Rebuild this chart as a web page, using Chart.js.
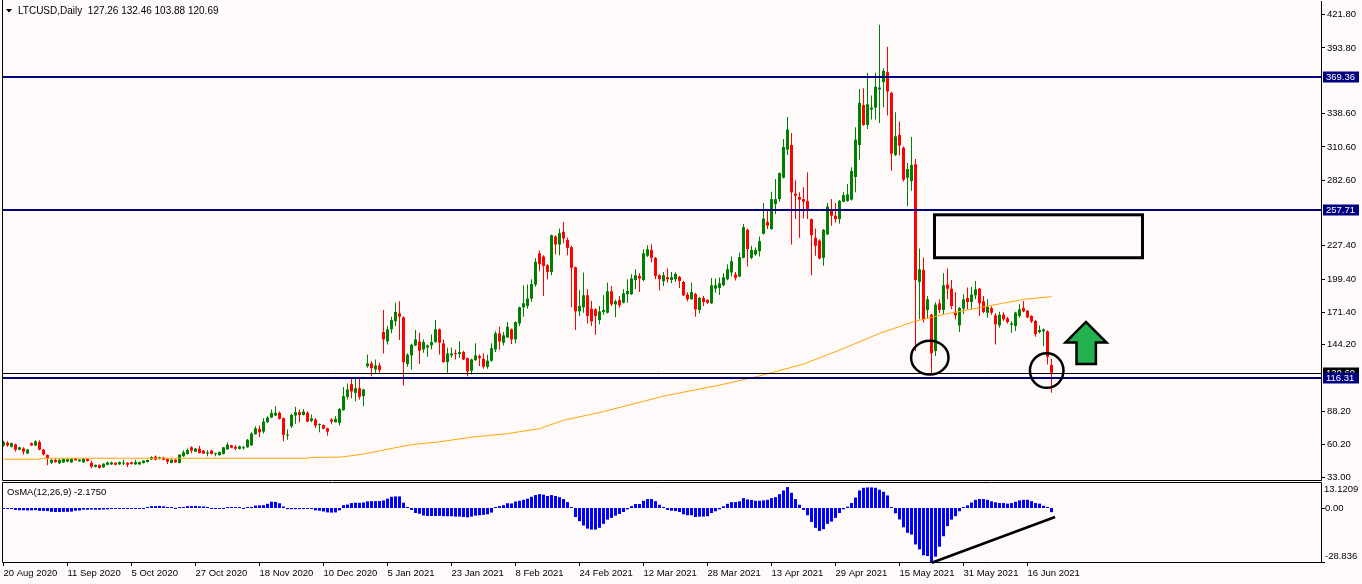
<!DOCTYPE html>
<html>
<head>
<meta charset="utf-8">
<title>LTCUSD Daily</title>
<script src="https://cdn.jsdelivr.net/npm/chart.js@4.4.1/dist/chart.umd.min.js"></script>
<style>
  html, body { margin: 0; padding: 0; background: #fffafa; }
  body { width: 1362px; height: 584px; position: relative; overflow: hidden; }
  canvas { position: absolute; left: 0; }
  #priceChart { top: 0; }
  #osmaChart { top: 482px; }
</style>
</head>
<body>
<canvas id="priceChart" width="1362" height="481"></canvas>
<canvas id="osmaChart" width="1362" height="102"></canvas>
<script>
const FONT = 'Liberation Sans';

// daily candles, 20 Aug 2020 .. 24 Jun 2021
const opens = [
  59.5, 61.8, 58.5, 60.5, 56.0, 57.0, 52.8, 61.5, 59.5, 62.5,
  56.0, 51.5, 45.0, 47.5, 44.6, 45.3, 46.0, 45.3, 48.5, 46.2,
  45.3, 48.2, 45.0, 41.5, 43.2, 41.2, 43.3, 43.6, 45.0, 43.6,
  44.3, 45.0, 45.3, 43.6, 43.6, 44.7, 45.6, 47.8, 50.1, 48.2,
  49.3, 48.2, 44.8, 47.6, 44.8, 50.4, 52.4, 58.0, 54.3, 56.9,
  55.2, 52.7, 55.2, 52.1, 51.3, 52.4, 56.3, 59.7, 58.3, 56.6,
  57.2, 58.0, 59.7, 69.0, 73.4, 71.2, 79.1, 83.0, 84.7, 87.0,
  82.4, 67.8, 75.7, 84.7, 87.5, 85.2, 87.0, 80.2, 81.3, 76.8,
  76.8, 74.0, 81.3, 79.1, 78.5, 89.2, 100.4, 111.1, 103.8, 107.7,
  101.0, 126.3, 128.5, 123.5, 126.8, 154.9, 147.0, 157.2, 163.9, 170.6,
  167.3, 128.0, 135.3, 143.7, 147.0, 140.3, 142.0, 143.7, 146.5, 157.2,
  145.4, 129.6, 135.3, 136.9, 136.4, 138.1, 133.0, 122.3, 131.3, 134.7,
  132.4, 125.7, 130.8, 140.3, 153.8, 145.9, 150.4, 157.2, 148.7, 162.2,
  175.7, 176.8, 183.0, 194.8, 221.0, 218.4, 211.1, 205.5, 235.3, 228.5,
  239.2, 232.5, 226.3, 209.4, 172.3, 175.7, 185.8, 174.6, 174.0, 165.0,
  171.8, 171.2, 189.2, 178.2, 181.9, 179.6, 186.7, 186.7, 198.7, 202.1,
  198.7, 219.0, 224.0, 217.3, 202.7, 197.6, 201.0, 198.7, 199.3, 201.3,
  197.0, 186.4, 182.5, 186.9, 173.5, 183.6, 181.9, 179.1, 191.4, 192.0,
  194.3, 199.3, 205.0, 203.3, 201.6, 217.3, 240.9, 217.3, 220.1, 222.9,
  237.5, 247.6, 241.5, 262.5, 266.7, 284.7, 308.3, 312.2, 271.3, 268.5,
  266.7, 265.0, 249.9, 234.2, 231.9, 217.3, 237.0, 258.3, 252.7, 249.9,
  264.5, 265.1, 266.2, 285.3, 312.2, 345.9, 329.1, 342.0, 343.7, 358.9,
  365.1, 373.5, 356.1, 303.8, 320.7, 310.0, 284.7, 281.9, 296.0, 197.1,
  207.2, 173.5, 169.5, 138.9, 179.1, 173.5, 194.8, 191.4, 171.2, 160.5,
  174.6, 183.6, 180.2, 185.8, 191.4, 180.8, 171.2, 175.1, 169.0, 160.5,
  169.5, 166.4, 161.1, 160.0, 168.4, 175.1, 172.9, 168.4, 164.2, 154.9,
  155.5, 155.5, 127.26
];
const highs = [
  63.5, 63.3, 62.0, 61.0, 58.5, 58.0, 56.5, 62.0, 64.0, 64.0,
  56.5, 52.0, 48.0, 48.3, 48.0, 48.8, 48.5, 49.0, 49.0, 48.0,
  49.0, 48.8, 47.0, 43.6, 43.6, 44.5, 46.0, 46.0, 45.5, 46.0,
  47.5, 45.5, 46.0, 47.6, 46.0, 47.2, 47.8, 50.4, 51.0, 50.0,
  50.0, 48.6, 48.0, 48.0, 52.2, 55.5, 57.0, 58.8, 57.5, 59.4,
  55.8, 55.5, 56.0, 53.5, 54.5, 58.3, 62.2, 60.2, 59.7, 59.4,
  59.4, 65.0, 70.6, 75.7, 76.3, 82.4, 84.1, 89.7, 92.5, 88.1,
  83.0, 72.9, 86.4, 92.0, 89.7, 90.3, 88.3, 85.5, 82.7, 78.0,
  77.2, 74.5, 82.4, 84.1, 90.8, 108.8, 111.6, 116.4, 115.9, 116.4,
  107.2, 136.1, 130.5, 131.9, 129.1, 173.5, 160.0, 167.8, 179.6, 180.8,
  168.0, 137.0, 145.0, 156.6, 154.3, 148.7, 144.5, 152.9, 165.0, 158.0,
  148.7, 141.7, 141.7, 140.3, 147.2, 139.2, 133.5, 132.4, 145.4, 136.1,
  136.9, 135.8, 145.4, 155.5, 159.4, 154.9, 163.3, 157.8, 164.0, 176.5,
  194.2, 194.8, 199.3, 217.0, 223.5, 219.5, 212.0, 237.0, 236.0, 242.0,
  247.6, 234.4, 227.4, 210.0, 190.3, 204.9, 190.9, 181.0, 175.0, 176.8,
  185.8, 196.5, 193.7, 182.0, 185.3, 190.9, 199.3, 203.5, 207.7, 204.4,
  224.6, 228.0, 228.8, 218.0, 203.5, 205.5, 208.3, 205.5, 204.9, 202.1,
  198.0, 188.1, 196.5, 188.0, 184.5, 185.3, 182.5, 200.4, 199.9, 200.7,
  204.4, 212.0, 218.4, 205.5, 221.8, 245.7, 242.0, 227.4, 226.0, 235.3,
  263.4, 258.3, 272.9, 283.6, 289.0, 317.3, 335.8, 322.4, 282.5, 272.4,
  276.6, 289.2, 250.5, 242.0, 233.0, 241.5, 263.4, 266.7, 263.4, 266.0,
  272.4, 279.4, 293.4, 327.1, 359.4, 360.0, 372.9, 353.8, 372.9, 413.4,
  376.8, 394.8, 357.0, 339.8, 331.9, 311.0, 297.1, 319.0, 300.4, 225.1,
  217.6, 185.3, 170.0, 180.0, 182.5, 204.4, 208.3, 198.7, 188.6, 176.0,
  186.7, 192.3, 193.1, 197.9, 192.0, 185.3, 182.5, 176.5, 171.0, 172.0,
  171.5, 167.5, 164.2, 172.0, 178.2, 181.0, 173.5, 169.0, 165.0, 160.5,
  158.0, 156.5, 132.46
];
const lows = [
  58.5, 58.5, 57.8, 54.5, 55.5, 52.0, 52.3, 59.0, 59.0, 55.5,
  51.0, 43.0, 44.0, 45.0, 44.0, 45.0, 45.5, 44.8, 46.8, 45.8,
  45.0, 46.0, 40.3, 41.0, 40.2, 40.8, 43.0, 43.2, 43.0, 43.3,
  43.0, 41.5, 43.5, 43.3, 43.3, 44.3, 45.3, 47.4, 47.2, 47.8,
  47.2, 44.0, 44.5, 45.0, 44.5, 50.0, 52.0, 52.9, 54.0, 52.8,
  52.3, 50.4, 52.0, 50.4, 51.0, 52.0, 56.0, 57.3, 55.5, 56.2,
  56.0, 57.7, 59.4, 68.7, 66.7, 69.5, 78.5, 82.7, 84.1, 81.3,
  63.1, 64.4, 74.3, 77.9, 79.1, 84.7, 79.0, 79.1, 74.3, 70.6,
  73.2, 67.8, 77.4, 78.8, 76.3, 88.7, 98.2, 99.3, 96.8, 98.2,
  92.5, 124.8, 117.8, 120.6, 120.6, 136.9, 144.5, 153.8, 160.0, 148.2,
  110.0, 125.7, 123.5, 143.0, 128.0, 137.5, 134.1, 140.3, 146.0, 136.1,
  129.0, 120.6, 133.3, 131.9, 133.3, 131.5, 117.8, 119.2, 130.8, 126.3,
  124.0, 124.0, 130.0, 138.1, 140.3, 143.7, 150.0, 144.8, 145.4, 160.0,
  167.8, 174.6, 180.2, 193.0, 206.0, 185.3, 199.3, 202.7, 220.4, 219.5,
  229.6, 219.5, 175.7, 156.6, 168.4, 171.2, 162.2, 160.0, 152.7, 161.4,
  169.5, 170.5, 176.8, 167.3, 175.4, 179.0, 179.6, 186.0, 190.9, 188.6,
  197.6, 218.0, 213.3, 199.3, 189.8, 193.7, 196.5, 195.9, 197.1, 192.0,
  185.3, 180.8, 182.0, 167.8, 170.7, 176.8, 178.5, 178.5, 188.0, 186.0,
  193.5, 198.5, 201.6, 198.2, 201.0, 216.7, 210.0, 216.2, 219.0, 218.4,
  237.0, 241.5, 241.0, 254.1, 264.5, 284.0, 303.8, 228.5, 249.9, 234.2,
  250.4, 249.9, 202.7, 219.0, 216.2, 210.6, 236.5, 244.3, 247.1, 245.9,
  264.0, 264.5, 265.6, 272.4, 299.9, 328.5, 325.7, 333.6, 333.6, 330.8,
  344.0, 337.0, 290.6, 303.0, 303.3, 281.5, 260.6, 273.8, 138.9, 165.6,
  163.0, 166.1, 119.2, 134.7, 171.0, 169.8, 182.5, 174.0, 165.6, 154.9,
  169.8, 174.0, 174.0, 182.5, 168.4, 170.7, 167.0, 169.5, 144.5, 158.5,
  164.5, 162.0, 154.4, 155.8, 167.0, 171.5, 166.5, 162.5, 151.0, 154.0,
  143.1, 127.7, 103.88
];
const closes = [
  62.5, 59.4, 61.5, 56.0, 58.0, 54.3, 56.0, 59.5, 63.0, 56.0,
  52.0, 49.0, 47.5, 45.6, 47.5, 48.2, 48.0, 48.2, 47.0, 47.6,
  48.5, 46.5, 41.7, 43.2, 40.6, 44.2, 45.3, 45.3, 43.3, 45.6,
  45.0, 43.3, 43.9, 45.6, 45.6, 46.8, 47.3, 49.8, 47.6, 49.5,
  47.6, 45.9, 47.6, 45.3, 51.8, 53.8, 55.7, 55.2, 56.9, 53.2,
  52.7, 53.8, 52.4, 52.9, 54.1, 58.0, 60.2, 57.7, 56.9, 58.8,
  58.0, 64.4, 69.5, 74.0, 70.6, 79.6, 83.0, 87.0, 87.0, 81.9,
  68.4, 68.7, 85.2, 87.5, 85.2, 88.1, 79.6, 82.4, 76.3, 77.4,
  73.7, 71.2, 79.6, 81.9, 90.3, 101.0, 106.6, 104.9, 107.7, 100.4,
  106.6, 128.5, 124.6, 126.8, 122.9, 148.7, 157.2, 165.0, 171.8, 167.8,
  129.6, 135.8, 144.2, 148.7, 139.2, 146.5, 143.7, 146.5, 157.2, 146.0,
  129.6, 136.9, 136.9, 136.4, 138.1, 131.9, 121.8, 131.9, 135.3, 133.0,
  125.7, 130.8, 141.4, 153.8, 147.0, 152.1, 159.4, 148.7, 163.3, 175.7,
  179.1, 183.0, 195.4, 214.0, 212.0, 210.5, 205.5, 236.4, 228.5, 238.1,
  233.6, 225.7, 208.9, 172.3, 176.8, 185.8, 168.4, 163.9, 168.4, 172.3,
  173.5, 189.2, 178.2, 180.8, 177.4, 187.5, 189.5, 199.9, 202.7, 199.9,
  221.2, 224.6, 217.3, 202.1, 199.3, 202.7, 199.3, 201.0, 203.8, 197.9,
  185.8, 182.5, 188.6, 174.0, 183.6, 180.2, 179.6, 194.3, 194.3, 195.9,
  201.0, 207.8, 214.5, 200.4, 217.9, 243.1, 224.6, 224.0, 224.0, 231.3,
  250.4, 244.3, 266.7, 266.7, 288.6, 310.6, 325.2, 272.4, 269.5, 266.2,
  264.5, 256.9, 236.4, 227.4, 216.7, 240.9, 260.5, 252.7, 249.9, 265.3,
  270.1, 270.7, 290.3, 316.7, 347.6, 329.1, 346.5, 343.7, 361.1, 360.5,
  374.6, 357.2, 304.9, 319.5, 311.7, 283.0, 292.0, 295.4, 198.7, 207.7,
  165.6, 182.4, 137.0, 178.0, 173.5, 194.2, 191.4, 176.8, 169.0, 175.1,
  182.4, 180.2, 186.4, 190.9, 179.1, 171.8, 176.3, 171.2, 161.4, 169.5,
  165.6, 163.3, 162.2, 171.2, 174.0, 172.3, 167.3, 163.9, 153.2, 156.6,
  157.2, 134.1, 120.69
];

// OsMA(12,26,9) histogram, one value per candle
const osma = [
  -0.2, -0.2, -0.3, -1.0, -1.2, -1.2, -1.3, -1.2, -1.1, -1.5,
  -1.5, -1.6, -2.0, -2.1, -2.1, -2.0, -2.0, -1.9, -1.4, -1.3,
  -0.9, -0.9, -0.8, -0.9, -0.9, -0.8, -0.7, -0.4, -0.3, -0.3,
  -0.3, -0.2, -0.2, -0.2, -0.2, -0.1, 0.3, 1.0, 1.0, 1.1,
  0.9, 0.2, 0.1, -0.2, 0.2, 0.3, 1.0, 1.0, 1.1, 0.9,
  0.8, 0.2, -0.2, -0.4, -0.4, -0.3, 0.2, 0.2, 0.2, 0.1,
  -0.3, 0.5, 0.6, 1.3, 1.4, 1.5, 2.2, 3.3, 3.2, 2.5,
  0.8, -0.6, -0.6, -0.6, -0.6, -0.4, -0.4, -0.4, -1.2, -1.4,
  -1.8, -2.3, -2.4, -2.3, -1.2, 1.5, 1.8, 2.6, 2.8, 2.7,
  2.9, 3.5, 3.6, 3.6, 3.7, 4.0, 4.9, 5.9, 6.1, 6.1,
  2.8, 0.2, -1.0, -2.6, -3.0, -3.9, -4.2, -4.2, -4.2, -4.1,
  -4.3, -4.3, -4.3, -4.5, -4.5, -4.7, -4.9, -4.5, -4.0, -3.8,
  -3.6, -3.3, -2.4, 0.5, 1.0, 1.5, 2.5, 2.4, 3.4, 3.8,
  4.3, 4.9, 5.9, 6.8, 7.3, 7.0, 6.3, 6.8, 6.3, 5.7,
  4.7, 3.1, 0.2, -4.7, -6.9, -9.2, -10.8, -11.3, -11.3, -10.4,
  -8.3, -6.1, -5.2, -4.0, -3.1, -2.1, -0.7, 1.0, 2.1, 2.1,
  3.8, 4.7, 4.7, 3.6, 1.7, 0.3, -1.0, -1.4, -1.6, -2.1,
  -3.3, -3.8, -3.8, -4.7, -4.5, -4.5, -4.3, -2.6, -1.7, -0.7,
  0.9, 2.2, 3.1, 3.1, 3.5, 5.2, 4.5, 4.2, 3.8, 3.8,
  4.0, 4.3, 5.2, 5.7, 7.3, 9.2, 11.0, 8.0, 4.7, 1.7,
  -1.0, -3.8, -7.3, -10.4, -12.0, -11.1, -8.3, -7.1, -5.2, -2.6,
  -0.7, 0.7, 2.6, 5.5, 9.2, 10.6, 10.8, 10.8, 10.6, 9.6,
  8.5, 6.6, 0.3, -2.8, -6.0, -10.1, -13.0, -13.9, -19.1, -21.7,
  -24.8, -25.2, -28.8, -25.5, -20.3, -14.8, -9.5, -6.1, -4.3, -1.7,
  0.3, 1.4, 2.9, 4.3, 4.7, 4.7, 4.3, 3.5, 3.0, 2.6,
  2.6, 2.3, 2.6, 3.3, 4.0, 4.3, 4.3, 3.6, 2.6, 2.3,
  1.2, 0.3, -2.175
];

// moving average (orange), read at a few bars
const maIdx = [0, 9, 10, 76, 77, 84, 87, 91, 94, 98, 102, 109, 117, 126, 134, 140, 150, 165, 180, 189, 200, 210, 219, 228, 236, 244, 255, 262];
const maVal = [48.0, 48.0, 48.8, 48.8, 49.5, 49.7, 50.9, 52.9, 55.0, 57.7, 60.2, 62.6, 66.5, 69.5, 73.7, 80.7, 88.0, 101.0, 111.0, 118.0, 128.0, 141.0, 153.8, 164.1, 170.4, 175.4, 182.4, 184.7];

const priceTicks = [421.80, 393.80, 338.60, 310.60, 282.60, 227.40, 199.40, 171.40, 144.20, 88.20, 60.20, 33.00];
const dateLabels = ['20 Aug 2020', '11 Sep 2020', '5 Oct 2020', '27 Oct 2020', '18 Nov 2020', '10 Dec 2020',
  '5 Jan 2021', '23 Jan 2021', '8 Feb 2021', '24 Feb 2021', '12 Mar 2021', '28 Mar 2021', '13 Apr 2021',
  '29 Apr 2021', '15 May 2021', '31 May 2021', '16 Jun 2021'];
const dateIdx = [0, 16, 32, 48, 64, 80, 96, 112, 128, 144, 160, 176, 192, 208, 224, 240, 256];

const levels = [369.36, 257.71, 116.31];
const bidPrice = 120.69;

// chart objects, in bar index / price units
const zone = { i0: 232.75, i1: 284.75, p0: 253.5, p1: 217.4 };
const rings = [
  { i0: 226.9, i1: 236.25, p0: 147.6, p1: 119.2 },
  { i0: 256.6, i1: 265.0, p0: 137.1, p1: 108.0 }
];
const arrowI = [270.6, 275.75, 273.1, 273.1, 268.25, 268.25, 265.5];
const arrowP = [163.4, 146.1, 146.1, 128.1, 128.1, 146.1, 146.1];
const trendI = [232.05, 262.9];
const trendV = [-28.7, -4.7];

const X_MIN = -0.375, X_MAX = 329.375;
const idx = opens.map((_, i) => i);
const candleColors = idx.map(i => closes[i] >= opens[i] ? '#008000' : '#ff0000');

function noPad(s) {
  s.paddingTop = 0; s.paddingBottom = 0; s.paddingLeft = 0; s.paddingRight = 0;
}

function boxLabel(ctx, text, yc, bg) {
  ctx.fillStyle = bg;
  ctx.fillRect(1323, Math.round(yc) - 5.5, 36, 11);
  ctx.fillStyle = '#ffffff';
  ctx.textAlign = 'left';
  ctx.textBaseline = 'middle';
  ctx.fillText(text, 1326, Math.round(yc) + 0.5);
}

const priceDecor = {
  id: 'priceDecor',
  afterDraw(chart) {
    const { ctx, chartArea: a, scales: { x, y } } = chart;
    ctx.save();
    ctx.beginPath();
    ctx.rect(a.left, a.top, a.right - a.left, a.bottom - a.top);
    ctx.clip();

    const by = Math.round(y.getPixelForValue(bidPrice)) + 0.5;
    ctx.strokeStyle = '#000';
    ctx.lineWidth = 1;
    ctx.beginPath(); ctx.moveTo(a.left, by); ctx.lineTo(a.right, by); ctx.stroke();

    ctx.fillStyle = '#000080';
    levels.forEach(v => {
      const ly = Math.round(y.getPixelForValue(v));
      ctx.fillRect(a.left, ly - 1, a.right - a.left, 2);
    });

    ctx.lineWidth = 3;
    const zx0 = x.getPixelForValue(zone.i0), zx1 = x.getPixelForValue(zone.i1);
    const zy0 = y.getPixelForValue(zone.p0), zy1 = y.getPixelForValue(zone.p1);
    ctx.strokeRect(zx0, zy0, zx1 - zx0, zy1 - zy0);

    ctx.lineWidth = 2.5;
    rings.forEach(r => {
      const x0 = x.getPixelForValue(r.i0), x1 = x.getPixelForValue(r.i1);
      const y0 = y.getPixelForValue(r.p0), y1 = y.getPixelForValue(r.p1);
      ctx.beginPath();
      ctx.ellipse((x0 + x1) / 2, (y0 + y1) / 2, (x1 - x0) / 2, (y1 - y0) / 2, 0, 0, Math.PI * 2);
      ctx.stroke();
    });

    ctx.beginPath();
    arrowI.forEach((v, k) => {
      const px = x.getPixelForValue(v), py = y.getPixelForValue(arrowP[k]);
      if (k) ctx.lineTo(px, py); else ctx.moveTo(px, py);
    });
    ctx.closePath();
    ctx.fillStyle = '#22b14c';
    ctx.fill();
    ctx.lineWidth = 2.5;
    ctx.stroke();
    ctx.restore();

    // frame
    ctx.save();
    ctx.strokeStyle = '#000';
    ctx.lineWidth = 1;
    ctx.beginPath();
    ctx.moveTo(a.left + 0.5, 0); ctx.lineTo(a.left + 0.5, a.bottom + 0.5);
    ctx.lineTo(a.right + 1, a.bottom + 0.5);
    ctx.stroke();

    // price labels on the axis
    ctx.font = '9.5px ' + FONT;
    boxLabel(ctx, bidPrice.toFixed(2), y.getPixelForValue(bidPrice), '#000000');
    levels.forEach(v => boxLabel(ctx, v.toFixed(2), y.getPixelForValue(v), '#000080'));

    // title
    ctx.fillStyle = '#000';
    ctx.beginPath(); ctx.moveTo(6, 9); ctx.lineTo(12, 9); ctx.lineTo(9, 12.5); ctx.closePath(); ctx.fill();
    ctx.font = '10px ' + FONT;
    ctx.textAlign = 'left';
    ctx.textBaseline = 'middle';
    ctx.fillText('LTCUSD,Daily  127.26 132.46 103.88 120.69', 18, 11);
    ctx.restore();
  }
};

const osmaDecor = {
  id: 'osmaDecor',
  afterDraw(chart) {
    const { ctx, chartArea: a, scales: { x, y } } = chart;
    ctx.save();
    ctx.strokeStyle = '#000';
    ctx.lineWidth = 2.5;
    ctx.beginPath();
    ctx.moveTo(x.getPixelForValue(trendI[0]), y.getPixelForValue(trendV[0]));
    ctx.lineTo(x.getPixelForValue(trendI[1]), y.getPixelForValue(trendV[1]));
    ctx.stroke();

    ctx.lineWidth = 1;
    ctx.beginPath();
    ctx.rect(a.left + 0.5, a.top - 0.5, a.right - a.left, a.bottom - a.top);
    const zy = Math.round(y.getPixelForValue(0)) + 0.5;
    ctx.moveTo(a.right, zy); ctx.lineTo(a.right + 4, zy);
    ctx.moveTo(a.right, a.bottom - 0.5); ctx.lineTo(a.right + 4, a.bottom - 0.5);
    ctx.stroke();

    ctx.fillStyle = '#000';
    ctx.font = '9.5px ' + FONT;
    ctx.textAlign = 'left';
    ctx.textBaseline = 'middle';
    ctx.fillText('OsMA(12,26,9) -2.1750', 7, 10);
    ctx.fillText('13.1209', 1324, 7.5);
    ctx.fillText('0.00', 1325, zy);
    ctx.fillText('-28.836', 1325, 74);
    ctx.restore();
  }
};

new Chart(document.getElementById('priceChart').getContext('2d'), {
  type: 'bar',
  data: {
    datasets: [
      {
        type: 'line',
        data: maIdx.map((v, k) => ({ x: v, y: maVal[k] })),
        borderColor: '#ffa500',
        borderWidth: 1,
        pointRadius: 0,
        tension: 0,
        order: 0
      },
      {
        data: idx.map(i => ({ x: i, y: [lows[i], highs[i]] })),
        backgroundColor: candleColors,
        barThickness: 1,
        grouped: false,
        inflateAmount: 0,
        order: 2
      },
      {
        data: idx.map(i => ({ x: i, y: [opens[i], closes[i]] })),
        backgroundColor: candleColors,
        barThickness: 3,
        grouped: false,
        inflateAmount: 0,
        minBarLength: 1,
        order: 1
      }
    ]
  },
  options: {
    responsive: false,
    animation: false,
    devicePixelRatio: 1,
    events: [],
    layout: { autoPadding: false, padding: { left: 2, right: 0, top: 1, bottom: 1 } },
    plugins: { legend: { display: false }, tooltip: { enabled: false } },
    scales: {
      x: { type: 'linear', min: X_MIN, max: X_MAX, display: false, offset: false, grid: { offset: false } },
      y: {
        position: 'right',
        min: 30.5,
        max: 433.3,
        afterFit: s => { s.width = 41; noPad(s); },
        afterBuildTicks: s => { s.ticks = priceTicks.map(v => ({ value: v })); },
        ticks: { callback: v => v.toFixed(2), color: '#000', padding: 2, font: { family: FONT, size: 9.5 } },
        grid: { drawOnChartArea: false, tickLength: 4, color: '#000', offset: false },
        border: { color: '#000' }
      }
    }
  },
  plugins: [priceDecor]
});

new Chart(document.getElementById('osmaChart').getContext('2d'), {
  type: 'bar',
  data: {
    datasets: [{
      data: idx.map(i => ({ x: i, y: osma[i] })),
      backgroundColor: '#0000ff',
      barThickness: 3,
      inflateAmount: 0,
      minBarLength: 1
    }]
  },
  options: {
    responsive: false,
    animation: false,
    devicePixelRatio: 1,
    events: [],
    layout: { autoPadding: false, padding: { left: 2, right: 41, top: 1, bottom: 0 } },
    plugins: { legend: { display: false }, tooltip: { enabled: false } },
    scales: {
      x: {
        type: 'linear', min: X_MIN, max: X_MAX, offset: false,
        afterFit: s => { s.height = 21; noPad(s); },
        afterBuildTicks: s => { s.ticks = dateIdx.map(v => ({ value: v })); },
        ticks: {
          autoSkip: false, maxRotation: 0, align: 'start', padding: 2, color: '#000',
          font: { family: FONT, size: 9.5 },
          callback: (v, k) => dateLabels[k]
        },
        grid: { drawOnChartArea: false, tickLength: 3, color: '#000', offset: false },
        border: { display: false }
      },
      y: { display: false, min: -28.836, max: 13.1209 }
    }
  },
  plugins: [osmaDecor]
});
</script>
</body>
</html>
